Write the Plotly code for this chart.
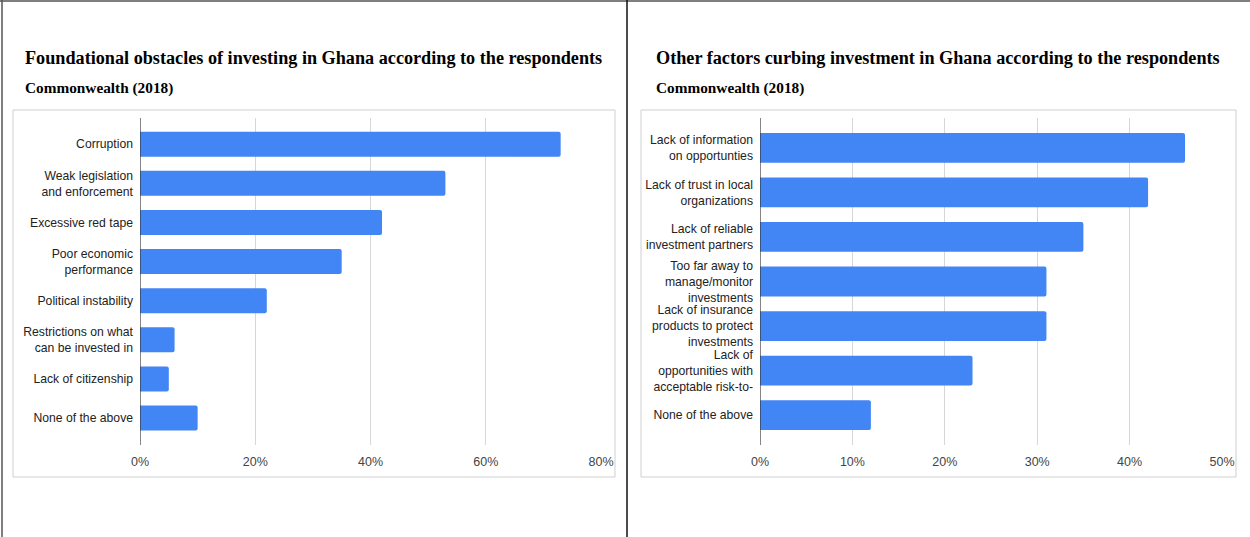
import plotly.graph_objects as go

W, H = 1250, 537

# Left panel: foundational obstacles
left_categories = [
    "Corruption",
    "Weak legislation<br>and enforcement",
    "Excessive red tape",
    "Poor economic<br>performance",
    "Political instability",
    "Restrictions on what<br>can be invested in",
    "Lack of citizenship",
    "None of the above",
]
left_values = [73, 53, 42, 35, 22, 6, 5, 10]
left_ticks = [0, 20, 40, 60, 80]
left_ticktext = ["0%", "20%", "40%", "60%", "80%"]

# Right panel: other factors
right_categories = [
    "Lack of information<br>on opportunties",
    "Lack of trust in local<br>organizations",
    "Lack of reliable<br>investment partners",
    "Too far away to<br>manage/monitor<br>investments",
    "Lack of insurance<br>products to protect<br>investments",
    "Lack of<br>opportunities with<br>acceptable risk-to-",
    "None of the above",
]
right_values = [46, 42, 35, 31, 31, 23, 12]
right_ticks = [0, 10, 20, 30, 40, 50]
right_ticktext = ["0%", "10%", "20%", "30%", "40%", "50%"]

titles = [
    "Foundational obstacles of investing in Ghana according to the respondents",
    "Other factors curbing investment in Ghana according to the respondents",
]
subtitle = "Commonwealth (2018)"

BLUE = "#4285F4"
SANS = "Liberation Sans, Arial, sans-serif"
SERIF = "Liberation Serif, Times New Roman, serif"


def px_x(p):
    return p / W


def px_y(p):
    return 1 - p / H


fig = go.Figure()
fig.add_trace(go.Bar(
    x=left_values, y=list(range(len(left_categories))), orientation="h",
    marker=dict(color=BLUE, line=dict(width=0)), width=0.64,
    xaxis="x", yaxis="y", hoverinfo="skip", showlegend=False,
))
fig.add_trace(go.Bar(
    x=right_values, y=list(range(len(right_categories))), orientation="h",
    marker=dict(color=BLUE, line=dict(width=0)), width=0.67,
    xaxis="x2", yaxis="y2", hoverinfo="skip", showlegend=False,
))

plot_top, plot_bottom = 118, 445
ydom = [px_y(plot_bottom), px_y(plot_top)]

common_x = dict(
    showgrid=True, gridcolor="#d6d6d6", gridwidth=1, zeroline=False,
    showline=False, ticks="", tickfont=dict(family=SANS, size=12.5, color="#444"),
    ticklabelstandoff=7, fixedrange=True, automargin=False,
)
common_y = dict(
    showgrid=False, zeroline=False, showline=False, ticks="",
    tickfont=dict(family=SANS, size=12.2, color="#222"),
    ticklabelstandoff=6, fixedrange=True, autorange=False, automargin=False,
)

fig.update_layout(
    width=W, height=H, margin=dict(l=0, r=0, t=0, b=0, autoexpand=False),
    paper_bgcolor="white", plot_bgcolor="white",
    barcornerradius=2,
    xaxis=dict(domain=[px_x(140), px_x(601)], range=[0, 80],
               tickvals=left_ticks, ticktext=left_ticktext, anchor="y", **common_x),
    yaxis=dict(domain=ydom, range=[7.69, -0.67],
               tickvals=list(range(len(left_categories))), ticktext=left_categories,
               anchor="x", **common_y),
    xaxis2=dict(domain=[px_x(760), px_x(1222)], range=[0, 50],
                tickvals=right_ticks, ticktext=right_ticktext, anchor="y2", **common_x),
    yaxis2=dict(domain=ydom, range=[6.67, -0.67],
                tickvals=list(range(len(right_categories))), ticktext=right_categories,
                anchor="x2", **common_y),
)

shapes = [
    # outer frame and panel divider
    dict(type="line", xref="paper", yref="paper", x0=0, x1=1, y0=px_y(1), y1=px_y(1),
         line=dict(color="#555", width=1.5)),
    dict(type="line", xref="paper", yref="paper", x0=px_x(2), x1=px_x(2), y0=0, y1=1,
         line=dict(color="#555", width=1.5)),
    dict(type="line", xref="paper", yref="paper", x0=px_x(627), x1=px_x(627), y0=0, y1=1,
         line=dict(color="#111", width=1.5)),
    # chart boxes
    dict(type="rect", xref="paper", yref="paper", x0=px_x(13), x1=px_x(615),
         y0=px_y(477), y1=px_y(110), line=dict(color="#cfcfcf", width=1), layer="below"),
    dict(type="rect", xref="paper", yref="paper", x0=px_x(641), x1=px_x(1236),
         y0=px_y(477), y1=px_y(110), line=dict(color="#cfcfcf", width=1), layer="below"),
    # zero baselines
    dict(type="line", xref="x", yref="paper", x0=0, x1=0, y0=ydom[0], y1=ydom[1],
         line=dict(color="#333", width=1.2)),
    dict(type="line", xref="x2", yref="paper", x0=0, x1=0, y0=ydom[0], y1=ydom[1],
         line=dict(color="#333", width=1.2)),
]
fig.update_layout(shapes=shapes)

annotations = []
for title, x0 in zip(titles, [23, 654]):
    annotations.append(dict(
        text=f"<b>{title}</b>", xref="paper", yref="paper", x=px_x(x0), y=px_y(58),
        xanchor="left", yanchor="middle", showarrow=False,
        font=dict(family=SERIF, size=18.2, color="#000"),
    ))
    annotations.append(dict(
        text=f"<b>{subtitle}</b>", xref="paper", yref="paper", x=px_x(x0), y=px_y(88),
        xanchor="left", yanchor="middle", showarrow=False,
        font=dict(family=SERIF, size=15.3, color="#000"),
    ))
fig.update_layout(annotations=annotations)

# page body without default margin so the figure fills the window exactly
fig.write_html(
    "out.html",
    config={"displayModeBar": False},
    post_script="document.body.style.margin='0';document.body.style.overflow='hidden';",
)
